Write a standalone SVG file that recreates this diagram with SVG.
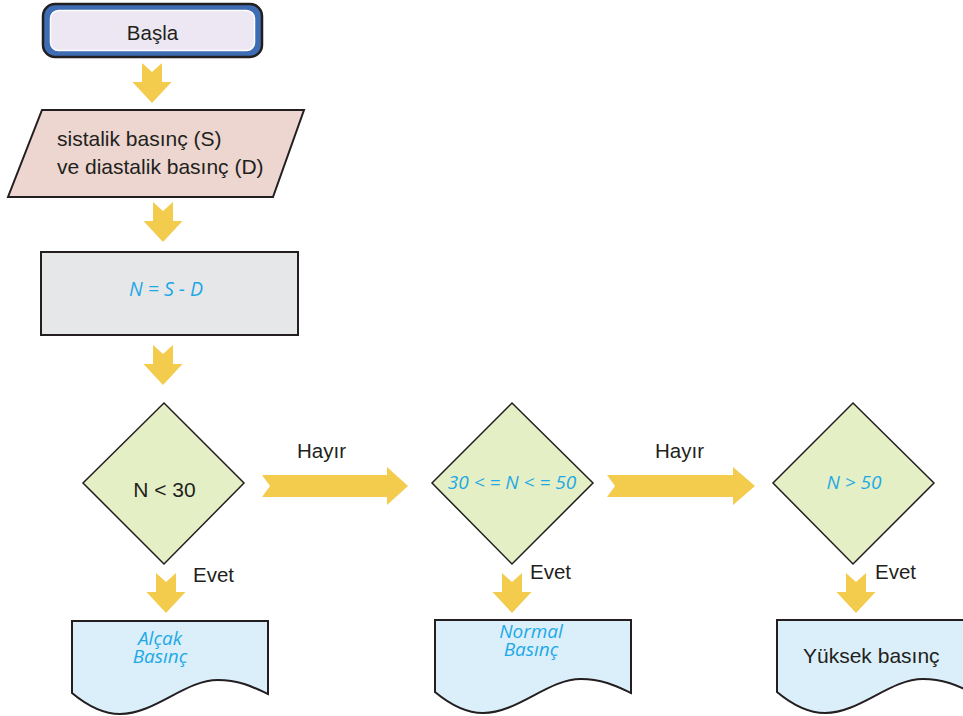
<svg xmlns="http://www.w3.org/2000/svg" width="963" height="716" viewBox="0 0 963 716">
<style>
.t{font-family:"Liberation Sans",Arial,sans-serif;fill:#231f20}
.c{font-family:"Open Sans","Noto Sans",sans-serif;font-style:italic;fill:#1ea9e6}
.arr{fill:#f3cb4d}
.dia{fill:#e5efc5;stroke:#231f20;stroke-width:1.5}
.doc{fill:#dbeffa;stroke:#231f20;stroke-width:2}
</style>
<defs>
<path id="docshape" d="M0,0 L196,0 L196,73 C183,67 168,59 146,59 C113,59 83,93 48,93 C33,93 18,87 0,72 Z"/>
</defs>
<rect width="963" height="716" fill="#ffffff"/>
<g id="connectors">
<path class="arr" d="M142,63 L152,72 L162,63 L162,82 L171.5,82 L152,103 L132.5,82 L142,82 Z"/>
<path class="arr" d="M153,202 L163,211 L173,202 L173,221 L182.5,221 L163,242 L143.5,221 L153,221 Z"/>
<path class="arr" d="M153,345 L163,354 L173,345 L173,364 L182.5,364 L163,385 L143.5,364 L153,364 Z"/>
<path class="arr" d="M262,475 L387,475 L387,467 L408,486 L387,505 L387,497 L262,497 L270,486 Z"/>
<path class="arr" d="M607,475 L733,475 L733,467 L755,486 L733,505 L733,497 L607,497 L615,486 Z"/>
<path class="arr" d="M156,573 L166,582 L176,573 L176,592 L185.5,592 L166,613 L146.5,592 L156,592 Z"/>
<path class="arr" d="M502,573 L512,582 L522,573 L522,592 L531.5,592 L512,613 L492.5,592 L502,592 Z"/>
<path class="arr" d="M846,573 L856,582 L866,573 L866,592 L875.5,592 L856,613 L836.5,592 L846,592 Z"/>
<text class="t" x="297" y="458" font-size="20.5">Hayır</text>
<text class="t" x="655" y="458" font-size="20.5">Hayır</text>
<text class="t" x="193" y="582" font-size="20.5">Evet</text>
<text class="t" x="530" y="579" font-size="20.5">Evet</text>
<text class="t" x="875" y="579" font-size="20.5">Evet</text>
</g>
<g id="start">
<rect x="43" y="4" width="219" height="53" rx="12" fill="#3f6db4" stroke="#231f20" stroke-width="2.5"/>
<rect x="50.5" y="10.5" width="204" height="40" rx="8" fill="#ece7f2" stroke="#ffffff" stroke-width="1.5"/>
<text class="t" x="152.5" y="40" font-size="20.5" text-anchor="middle">Başla</text>
</g>
<g id="input">
<path d="M42,110 L304,110 L273,197 L8,197 Z" fill="#ecd6cf" stroke="#231f20" stroke-width="2"/>
<text class="t" x="57" y="146" font-size="21">sistalik basınç (S)</text>
<text class="t" x="57" y="173.5" font-size="21">ve diastalik basınç (D)</text>
</g>
<g id="process">
<rect x="41" y="252" width="257" height="83" fill="#e6e7e8" stroke="#231f20" stroke-width="2"/>
<text class="c" x="166" y="296" font-size="19.5" text-anchor="middle">N = S - D</text>
</g>
<g id="decision1">
<path class="dia" d="M164,403 L244,483 L164,564 L83,483 Z"/>
<text class="t" x="164.5" y="497" font-size="21" text-anchor="middle">N &lt; 30</text>
</g>
<g id="decision2">
<path class="dia" d="M512,403 L593,483 L512,564 L432,483 Z"/>
<text class="c" x="512" y="489" font-size="19" text-anchor="middle">30 &lt; = N &lt; = 50</text>
</g>
<g id="decision3">
<path class="dia" d="M853,403 L934,483 L853,564 L773,483 Z"/>
<text class="c" x="854" y="489" font-size="19" text-anchor="middle">N &gt; 50</text>
</g>
<g id="out1">
<use href="#docshape" class="doc" x="72" y="621"/>
<text class="c" x="160" y="645" font-size="19" text-anchor="middle">Alçak</text>
<text class="c" x="160" y="663" font-size="19" text-anchor="middle">Basınç</text>
</g>
<g id="out2">
<use href="#docshape" class="doc" x="435" y="620"/>
<text class="c" x="531" y="638" font-size="19" text-anchor="middle">Normal</text>
<text class="c" x="531" y="656" font-size="19" text-anchor="middle">Basınç</text>
</g>
<g id="out3">
<use href="#docshape" class="doc" x="777" y="620"/>
<text class="t" x="803" y="663" font-size="21">Yüksek basınç</text>
</g>
</svg>
